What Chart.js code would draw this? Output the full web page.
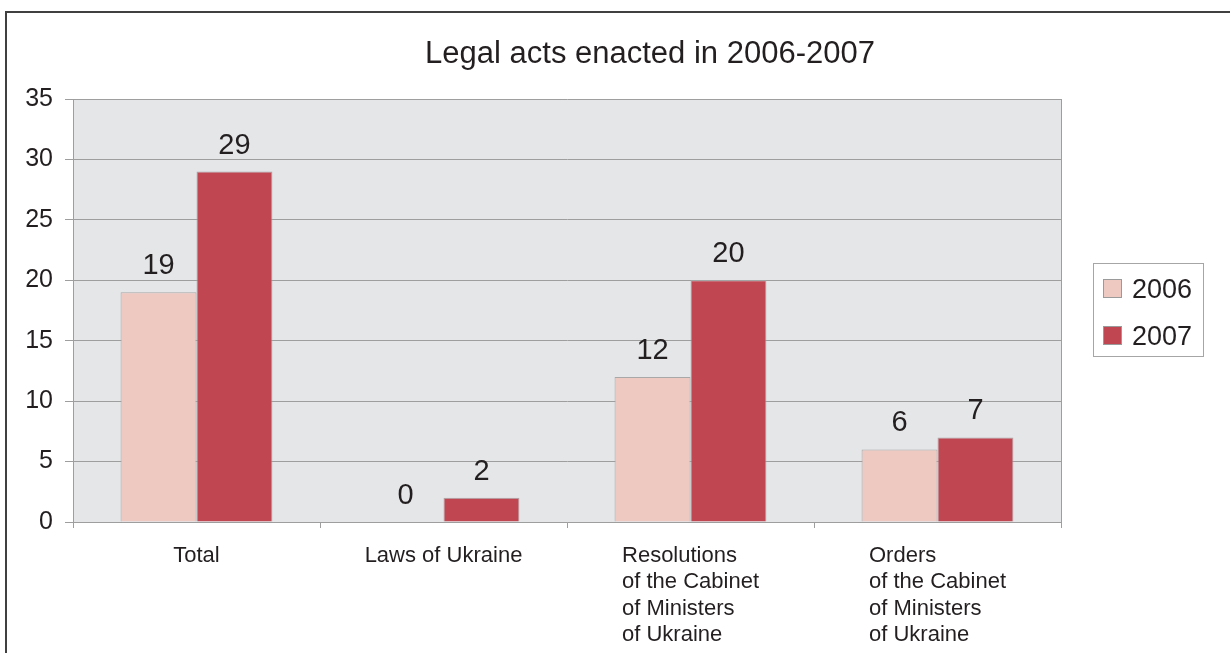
<!DOCTYPE html>
<html><head><meta charset="utf-8">
<script src="https://cdn.jsdelivr.net/npm/chart.js@4"></script>
<style>html,body{margin:0;padding:0;background:#fff}#wrap{position:relative;width:1230px;height:653px}</style>
</head><body><div id="wrap"><canvas id="c"></canvas></div>
<script>
const TITLE = 'Legal acts enacted in 2006-2007';
const categories = [
  ['Total'],
  ['Laws of Ukraine'],
  ['Resolutions', 'of the Cabinet', 'of Ministers', 'of Ukraine'],
  ['Orders', 'of the Cabinet', 'of Ministers', 'of Ukraine']
];
const seriesNames = ['2006', '2007'];
const values2006 = [19, 0, 12, 6];
const values2007 = [29, 2, 20, 7];
const yTicks = [0, 5, 10, 15, 20, 25, 30, 35];

const FONT = '"Liberation Sans", Arial, Helvetica, sans-serif';
const TEXT = '#231f20';
const GRID = '#9e9e9e';
Chart.defaults.font.family = FONT;

const decor = {
  id: 'decor',
  beforeDraw(chart) {
    const {ctx, chartArea: a} = chart;
    ctx.save();
    ctx.fillStyle = '#ffffff';
    ctx.fillRect(0, 0, chart.width, chart.height);
    ctx.fillStyle = '#e5e6e8';
    ctx.fillRect(a.left, a.top, a.right - a.left, a.bottom - a.top);
    ctx.strokeStyle = '#404040';
    ctx.lineWidth = 2;
    ctx.strokeRect(6, 12, chart.width + 40, chart.height + 40);
    ctx.restore();
  },
  afterDatasetsDraw(chart) {
    const {ctx} = chart;
    ctx.save();
    ctx.font = '29px ' + FONT;
    ctx.fillStyle = TEXT;
    ctx.textAlign = 'center';
    ctx.textBaseline = 'alphabetic';
    chart.data.datasets.forEach((ds, i) => {
      const meta = chart.getDatasetMeta(i);
      meta.data.forEach((el, j) => {
        ctx.fillText(String(ds.data[j]), el.x, el.y - 18);
      });
    });
    ctx.restore();
  },
  afterDraw(chart) {
    const {ctx, chartArea: a} = chart;
    const xs = chart.scales.x;
    ctx.save();
    // plot right border
    ctx.strokeStyle = GRID;
    ctx.lineWidth = 1;
    ctx.beginPath();
    ctx.moveTo(a.right + 0.5, a.top);
    ctx.lineTo(a.right + 0.5, a.bottom);
    ctx.stroke();
    // category labels: left-aligned block centred under each category
    ctx.font = '22px ' + FONT;
    ctx.fillStyle = TEXT;
    ctx.textAlign = 'left';
    ctx.textBaseline = 'alphabetic';
    chart.data.labels.forEach((lines, i) => {
      const w = Math.max(...lines.map(t => ctx.measureText(t).width));
      const x0 = xs.getPixelForTick(i) - w / 2;
      lines.forEach((t, k) => ctx.fillText(t, x0, a.bottom + 40 + k * 26.4));
    });
    // title
    ctx.font = '31px ' + FONT;
    ctx.textAlign = 'center';
    ctx.fillText(TITLE, 650, 63);
    // legend
    ctx.strokeStyle = '#a6a6a6';
    ctx.strokeRect(1093.5, 263.5, 110, 93);
    ctx.textAlign = 'left';
    ctx.font = '27px ' + FONT;
    chart.data.datasets.forEach((ds, i) => {
      const sy = 279 + i * 47;
      ctx.fillStyle = ds.backgroundColor;
      ctx.fillRect(1103, sy, 19, 19);
      ctx.strokeStyle = '#9a9a9a';
      ctx.strokeRect(1103.5, sy + 0.5, 18, 18);
      ctx.fillStyle = TEXT;
      ctx.fillText(ds.label, 1132, sy + 19);
    });
    ctx.restore();
  }
};

new Chart(document.getElementById('c'), {
  type: 'bar',
  data: {
    labels: categories,
    datasets: [
      {label: seriesNames[0], data: values2006, backgroundColor: '#eec9c2', borderColor: '#a8a8a8', borderWidth: 1},
      {label: seriesNames[1], data: values2007, backgroundColor: '#c04652', borderColor: '#a8a8a8', borderWidth: 1}
    ]
  },
  options: {
    responsive: true,
    maintainAspectRatio: false,
    animation: false,
    devicePixelRatio: 1,
    categoryPercentage: 0.615,
    barPercentage: 1,
    layout: {padding: {left: 0, top: 99, right: 169, bottom: 0}},
    plugins: {legend: {display: false}, title: {display: false}, tooltip: {enabled: false}},
    scales: {
      x: {
        grid: {display: true, drawOnChartArea: false, drawTicks: true, tickLength: 6, color: GRID, offset: true},
        border: {display: true, color: GRID, width: 1},
        ticks: {display: false, autoSkip: false, maxRotation: 0},
        afterFit(s) { s.height = 131; }
      },
      y: {
        min: yTicks[0],
        max: yTicks[yTicks.length - 1],
        ticks: {stepSize: yTicks[1] - yTicks[0], padding: 12, color: TEXT, font: {size: 25}},
        grid: {color: GRID, tickLength: 8},
        border: {display: true, color: GRID, width: 1},
        afterFit(s) { s.width = 73; }
      }
    }
  },
  plugins: [decor]
});
</script></body></html>
